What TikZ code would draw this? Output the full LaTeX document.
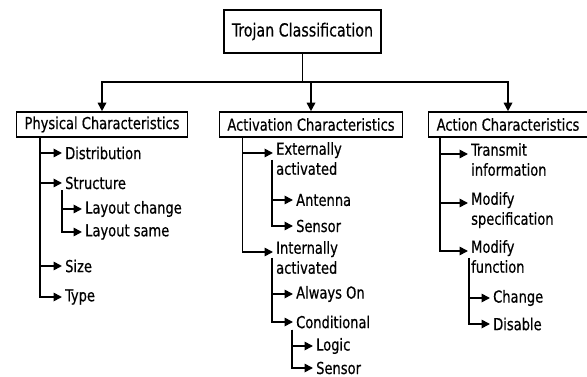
\documentclass[tikz,border=0pt]{standalone}
\usepackage{fontspec}
\setmainfont{DejaVu Sans Condensed}[FakeStretch=0.88, FakeBold=0.5]
\usepackage{tikz}
\usetikzlibrary{positioning,arrows.meta,calc}

\begin{document}
\begin{tikzpicture}[
  x=1pt, y=-1pt,
  font=\fontsize{16.5}{20}\selectfont,
  >={Triangle[length=8.5pt,width=8.5pt]},
  rootbox/.style={draw=black, line width=1.6pt, inner xsep=8pt, minimum height=43pt, font=\fontsize{18}{20}\selectfont},
  catbox/.style={draw=black, line width=1.6pt, inner xsep=8pt, minimum height=25pt},
  leaf/.style={anchor=west, inner xsep=3pt, inner ysep=1pt},
  twoleaf/.style={anchor=north west, align=left, inner xsep=3pt, inner ysep=0pt},
  branch/.style={->, draw=black, line width=1.7pt},
  trunk/.style={draw=black, line width=1.7pt}
]
  \useasboundingbox (0,0) rectangle (587,377);

  % top level
  \node[rootbox] (root) at (302.5,31.5) {Trojan Classification};
  \node[catbox] (phys) at (102,124.5) {Physical Characteristics};
  \node[catbox] (actv) at (311,124.5) {Activation Characteristics};
  \node[catbox] (actn) at (508,124.5) {Action Characteristics};
  \coordinate (split) at (302.5,82);
  \draw[trunk] (root.south) -- (split);
  \draw[branch] (split) -| (phys.north);
  \draw[branch] (split) -| (actv.north);
  \draw[branch] (split) -| (actn.north);

  % physical
  \coordinate (physT) at ($(phys.south west)+(24,0)$);
  \node[leaf] (dist) at (62,153) {Distribution};
  \node[leaf] (struc) at (62,183) {Structure};
  \node[leaf] (size) at (62,266) {Size};
  \node[leaf] (type) at (62,297) {Type};
  \foreach \n in {dist,struc,size,type}
    \draw[branch] (physT) |- (\n.west);
  \node[leaf] (lchg) at (82,209) {Layout change};
  \node[leaf] (lsame) at (82,232) {Layout same};
  \foreach \n in {lchg,lsame}
    \draw[branch] (struc.south west) |- (\n.west);

  % activation
  \coordinate (actvT) at ($(actv.south west)+(24,0)$);
  \node[twoleaf] (ext) at (273,142) {Externally\\activated};
  \node[twoleaf] (intl) at (273,241) {Internally\\activated};
  \draw[branch] (actvT) |- ($(ext.north west)+(0,11)$);
  \draw[branch] (actvT) |- ($(intl.north west)+(0,11)$);
  \node[leaf] (ant) at (293,200) {Antenna};
  \node[leaf] (sensa) at (293,226) {Sensor};
  \foreach \n in {ant,sensa}
    \draw[branch] ($(ext.north west)+(-1,18)$) |- (\n.west);
  \node[leaf] (alw) at (293,294) {Always On};
  \node[leaf] (cond) at (293,322) {Conditional};
  \foreach \n in {alw,cond}
    \draw[branch] ($(intl.north west)+(-1,17)$) |- (\n.west);
  \node[leaf] (logic) at (313,346) {Logic};
  \node[leaf] (sensb) at (313,368) {Sensor};
  \foreach \n in {logic,sensb}
    \draw[branch] ($(cond.south west)+(-1,0)$) |- (\n.west);

  % action
  \coordinate (actnT) at ($(actn.south west)+(12,0)$);
  \node[twoleaf] (trans) at (468,143) {Transmit\\information};
  \node[twoleaf] (mspec) at (468,192) {Modify\\specification};
  \node[twoleaf] (mfunc) at (468,240) {Modify\\function};
  \foreach \n in {trans,mspec,mfunc}
    \draw[branch] (actnT) |- ($(\n.north west)+(0,11)$);
  \node[leaf] (chg) at (490,298) {Change};
  \node[leaf] (dis) at (490,324) {Disable};
  \foreach \n in {chg,dis}
    \draw[branch] ($(mfunc.north west)+(1,18)$) |- (\n.west);
\end{tikzpicture}
\end{document}
